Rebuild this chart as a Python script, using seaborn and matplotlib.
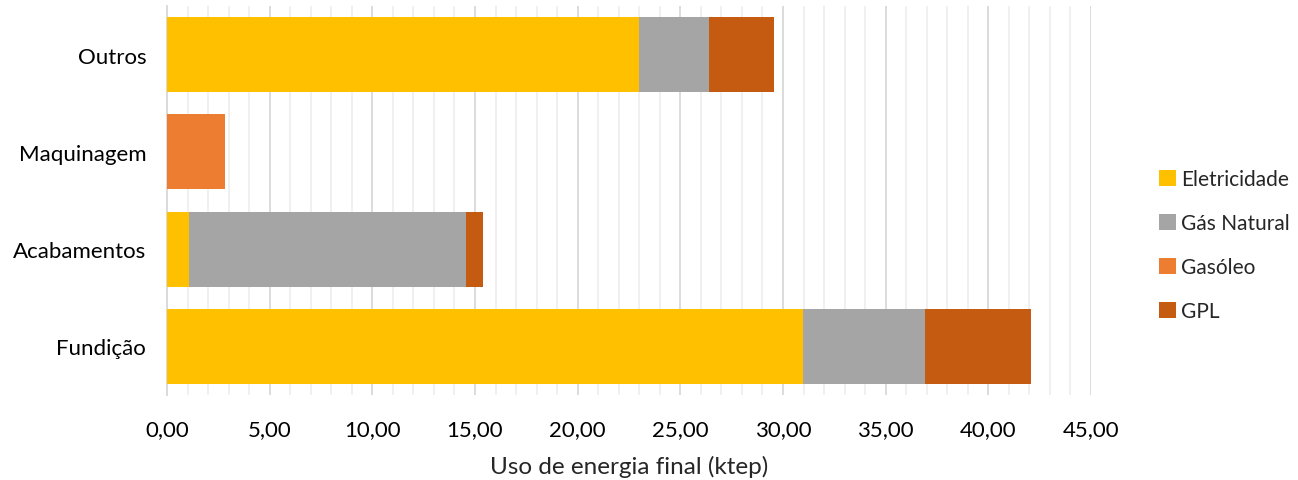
import numpy as np
import pandas as pd
import matplotlib
matplotlib.use("Agg")
import matplotlib.pyplot as plt
from matplotlib.ticker import MultipleLocator, FuncFormatter
from matplotlib.patches import Patch
import seaborn as sns

# Energy use by process area (ktep)
categories = ["Outros", "Maquinagem", "Acabamentos", "Fundição"]
eletricidade = [23.00, 0.00, 1.09, 30.98]
gas_natural = [3.41, 0.00, 13.48, 5.95]
gasoleo = [0.00, 2.81, 0.00, 0.00]
gpl = [3.15, 0.00, 0.83, 5.15]

series_names = ["Eletricidade", "Gás Natural", "Gasóleo", "GPL"]
series_values = [eletricidade, gas_natural, gasoleo, gpl]
colors = ["#FFC000", "#A5A5A5", "#ED7D31", "#C55A11"]

sns.set_theme(style="white")
plt.rcParams["font.family"] = ["Lato", "DejaVu Sans"]

fig = plt.figure(figsize=(12.98, 4.81), dpi=100)
ax = fig.add_axes([167 / 1298, 85 / 481, (1091 - 167) / 1298, (396 - 7) / 481])

# stacked bars: draw cumulative totals from the outermost segment inward
cumulative = np.cumsum(np.array(series_values), axis=0)
for i in range(len(series_names) - 1, -1, -1):
    df = pd.DataFrame({"categoria": categories, "valor": cumulative[i]})
    sns.barplot(data=df, x="valor", y="categoria", order=categories,
                color=colors[i], orient="h", width=0.77, saturation=1,
                linewidth=0, ax=ax, zorder=3)

ax.set_xlim(0, 45)
ax.set_ylim(3.5, -0.5)
ax.xaxis.set_major_locator(MultipleLocator(5))
ax.xaxis.set_minor_locator(MultipleLocator(1))
ax.xaxis.set_major_formatter(FuncFormatter(lambda v, p: f"{v:.2f}".replace(".", ",")))
ax.grid(axis="x", which="major", color="#D9D9D9", linewidth=1.3, zorder=0)
ax.grid(axis="x", which="minor", color="#EFEFEF", linewidth=1.3, zorder=0)
ax.set_axisbelow(True)

for side in ["top", "right", "bottom"]:
    ax.spines[side].set_visible(False)
ax.spines["left"].set_color("#D9D9D9")
ax.spines["left"].set_linewidth(1.3)

ax.tick_params(axis="both", which="both", length=0, labelsize=16, colors="#000000")
ax.tick_params(axis="x", pad=17)
ax.tick_params(axis="y", pad=15)
ax.set_ylabel("")
ax.set_xlabel("Uso de energia final (ktep)", fontsize=17.5, labelpad=12)

handles = [Patch(facecolor=c, edgecolor="none") for c in colors]
fig.legend(handles, series_names, loc="center left", bbox_to_anchor=(1159 / 1298, 1 - 246 / 481),
           frameon=False, fontsize=15, handlelength=0.8, handleheight=0.8,
           handletextpad=0.25, labelspacing=1.15, borderpad=0, borderaxespad=0)

fig.savefig("out.png", dpi=100)
